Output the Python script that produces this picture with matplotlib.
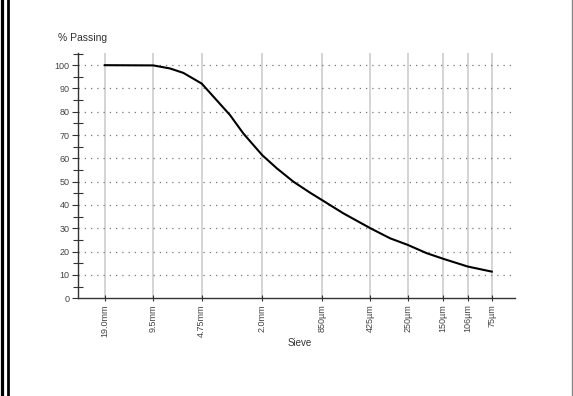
import numpy as np
import matplotlib
matplotlib.use("Agg")
import matplotlib.pyplot as plt
from matplotlib.lines import Line2D

plt.rcParams['font.family'] = ['Liberation Sans', 'DejaVu Sans']

# sieve sizes (mm) and their labels
sieve_mm = [19.0, 9.5, 4.75, 2.0, 0.85, 0.425, 0.25, 0.15, 0.106, 0.075]
sieve_labels = ["19.0mm", "9.5mm", "4.75mm", "2.0mm", "850µm", "425µm",
                "250µm", "150µm", "106µm", "75µm"]

# grading curve
curve_mm = [19.0, 9.5, 7.48, 6.18, 4.75, 3.84, 3.17, 2.62, 2.0, 1.62,
            1.28, 1.01, 0.85, 0.626, 0.425, 0.321, 0.25, 0.19, 0.15,
            0.106, 0.075]
curve_pass = [100, 99.9, 98.6, 96.7, 92.1, 85.0, 78.6, 70.7, 61.4, 55.7,
              50.0, 45.3, 42.1, 36.4, 30.0, 25.7, 22.9, 19.3, 16.9,
              13.6, 11.4]

fig = plt.figure(figsize=(5.73, 3.96), dpi=100)
ax = fig.add_axes([0.136, 0.247, 0.763, 0.619])

ax.set_xscale("log")
ax.set_xlim(27.9, 0.0537)
ax.set_ylim(0, 105.2)

# vertical grey lines at each sieve
for s in sieve_mm:
    ax.axvline(s, color="#d4d4d4", lw=1.4, zorder=0)
# horizontal dotted lines
for v in range(10, 101, 10):
    ax.axhline(v, color="#777777", lw=0.9, ls=(0, (1, 4)), zorder=0)

ax.plot(curve_mm, curve_pass, color="black", lw=1.5)

ax.set_xticks(sieve_mm)
ax.set_xticklabels(sieve_labels, rotation=90, fontsize=6.5, color="#444444")
ax.xaxis.set_minor_locator(matplotlib.ticker.NullLocator())
ax.set_yticks(range(0, 101, 10))
ax.set_yticks(range(5, 106, 10), minor=True)
ax.tick_params(axis="y", labelsize=6.5, labelcolor="#444444", direction="out",
               length=4, width=0.8, color="#333333", pad=2)
ax.tick_params(axis="y", which="minor", direction="inout", length=7, width=0.8,
               color="#333333")
ax.tick_params(axis="x", direction="inout", length=5, width=0.8, color="#333333", pad=2)

for side in ["top", "right"]:
    ax.spines[side].set_visible(False)
for side in ["left", "bottom"]:
    ax.spines[side].set_color("#333333")
    ax.spines[side].set_linewidth(1.0)

fig.text(58 / 573, 1 - 38 / 396, "% Passing", fontsize=7.5, color="#333333", va="center")
fig.text(300 / 573, 1 - 343 / 396, "Sieve", fontsize=7, color="#333333", va="center", ha="center")

# window frame on the left and right
fig.add_artist(Line2D([1.5 / 573, 1.5 / 573], [0, 1], color="black", lw=2.3))
fig.add_artist(Line2D([7.5 / 573, 7.5 / 573], [0, 1], color="black", lw=2.0))
fig.add_artist(Line2D([572 / 573, 572 / 573], [0, 1], color="#888888", lw=1.0))

fig.savefig("out.png", dpi=100)
